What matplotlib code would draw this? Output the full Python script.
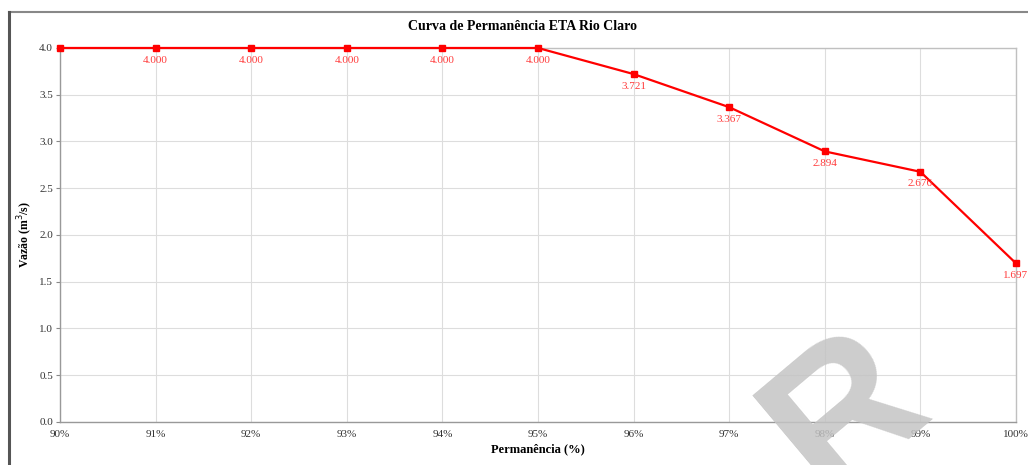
import matplotlib.pyplot as plt
from matplotlib.lines import Line2D

# data
permanencia = [90, 91, 92, 93, 94, 95, 96, 97, 98, 99, 100]
vazao = [4.000, 4.000, 4.000, 4.000, 4.000, 4.000, 3.721, 3.367, 2.894, 2.676, 1.697]
x_labels = [f'{p}%' for p in permanencia]
y_ticks = [0.0, 0.5, 1.0, 1.5, 2.0, 2.5, 3.0, 3.5, 4.0]

plt.rcParams['font.family'] = ['Liberation Serif', 'DejaVu Serif']

fig = plt.figure(figsize=(10.28, 4.65), dpi=100)
ax = fig.add_axes([0.0584, 0.0925, 0.9299, 0.8043])

ax.plot(permanencia, vazao, color='#ff0000', linewidth=1.6, marker='s',
        markersize=4.5, zorder=3, clip_on=False)

# value labels under each point (first point has none)
for p, v in zip(permanencia[1:], vazao[1:]):
    ax.annotate(f'{v:.3f}', (p, v), xytext=(0, -5.5), textcoords='offset points',
                ha='center', va='top', fontsize=8, color='#ff3b3b',
                annotation_clip=False)

ax.set_xlim(90, 100)
ax.set_ylim(0, 4.0)
ax.set_xticks(permanencia)
ax.set_xticklabels(x_labels)
ax.set_yticks(y_ticks)
ax.set_yticklabels([f'{t:.1f}' for t in y_ticks])
ax.tick_params(axis='both', labelsize=8, colors='#333333')
ax.tick_params(axis='y', length=3, width=0.8, color='#888888', pad=2)
ax.tick_params(axis='x', length=0, pad=6)

ax.grid(True, color='#dddddd', linewidth=0.8)
ax.set_axisbelow(True)
for side in ['left', 'bottom']:
    ax.spines[side].set_color('#999999')
    ax.spines[side].set_linewidth(1.0)
for side in ['top', 'right']:
    ax.spines[side].set_color('#c0c0c0')
    ax.spines[side].set_linewidth(1.0)

ax.set_xlabel('Permanência (%)', fontsize=9, fontweight='bold', labelpad=3)
ax.set_ylabel('Vazão (m$^3$/s)', fontsize=8.5, fontweight='bold', labelpad=3)

fig.text(0.508, 0.942, 'Curva de Permanência ETA Rio Claro', ha='center',
         va='center', fontsize=10, fontweight='bold')

# page frame lines
fig.add_artist(Line2D([0.009, 1.0], [0.974, 0.974], color='#888888', linewidth=1.5))
fig.add_artist(Line2D([0.009, 0.009], [0.0, 0.974], color='#555555', linewidth=2.2))

# watermark letter, cut by the page edge as in the reference
fig.text(0.824, 0.11, 'R', family='Liberation Sans', fontsize=140,
         fontweight='bold', color='#c4c4c4', alpha=0.85, rotation=40,
         rotation_mode='anchor', ha='center', va='center', zorder=5)

fig.savefig('out.png', dpi=100)
